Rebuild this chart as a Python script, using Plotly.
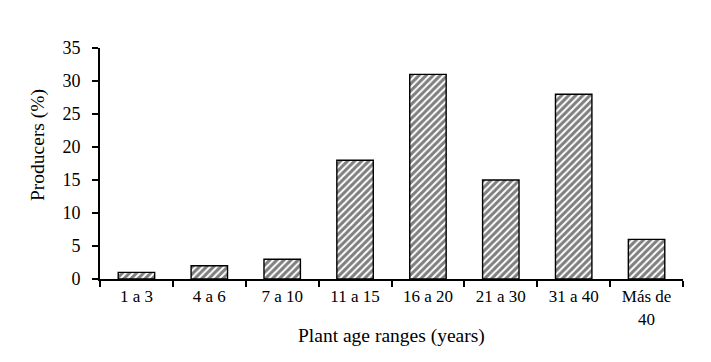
import plotly.graph_objects as go

categories = ["1 a 3", "4 a 6", "7 a 10", "11 a 15", "16 a 20", "21 a 30", "31 a 40", "Más de<br>40"]
producers_pct = [1, 2, 3, 18, 31, 15, 28, 6]
y_ticks = [0, 5, 10, 15, 20, 25, 30, 35]

fig = go.Figure(go.Bar(
    x=categories, y=producers_pct, width=0.5,
    marker=dict(color="white", line=dict(color="black", width=1.4),
                pattern=dict(shape="/", fgcolor="black", bgcolor="white", size=5, solidity=0.6)),
))

font = dict(family="Liberation Serif, Times New Roman, serif", color="black")
# page body adds an 8px offset; margins compensate
fig.update_layout(
    width=711, height=362, plot_bgcolor="white", paper_bgcolor="white",
    margin=dict(l=92, r=36, t=40, b=91), showlegend=False,
    font=dict(**font, size=17),
    annotations=[
        dict(text="Plant age ranges (years)", xref="paper", yref="paper", x=0.5, y=0,
             xanchor="center", yanchor="middle", yshift=-57, showarrow=False, font=dict(size=19.5)),
        dict(text="Producers (%)", xref="paper", yref="paper", x=0, y=0.58, textangle=-90,
             xanchor="center", yanchor="middle", xshift=-62, showarrow=False, font=dict(size=19.5)),
    ],
)
fig.update_xaxes(showline=True, linecolor="black", linewidth=2, ticks="outside", tickson="boundaries",
                 ticklen=6, tickwidth=1.5, tickcolor="black", tickfont=dict(size=17), automargin=False,
                 ticklabelstandoff=1)
fig.update_yaxes(range=[0, 35], tickvals=y_ticks, showline=True, linecolor="black", linewidth=2,
                 ticks="outside", ticklen=6, tickwidth=1.5, tickcolor="black", showgrid=False, zeroline=False,
                 tickfont=dict(size=18), automargin=False, ticklabelstandoff=8)

fig.write_html("out.html")
